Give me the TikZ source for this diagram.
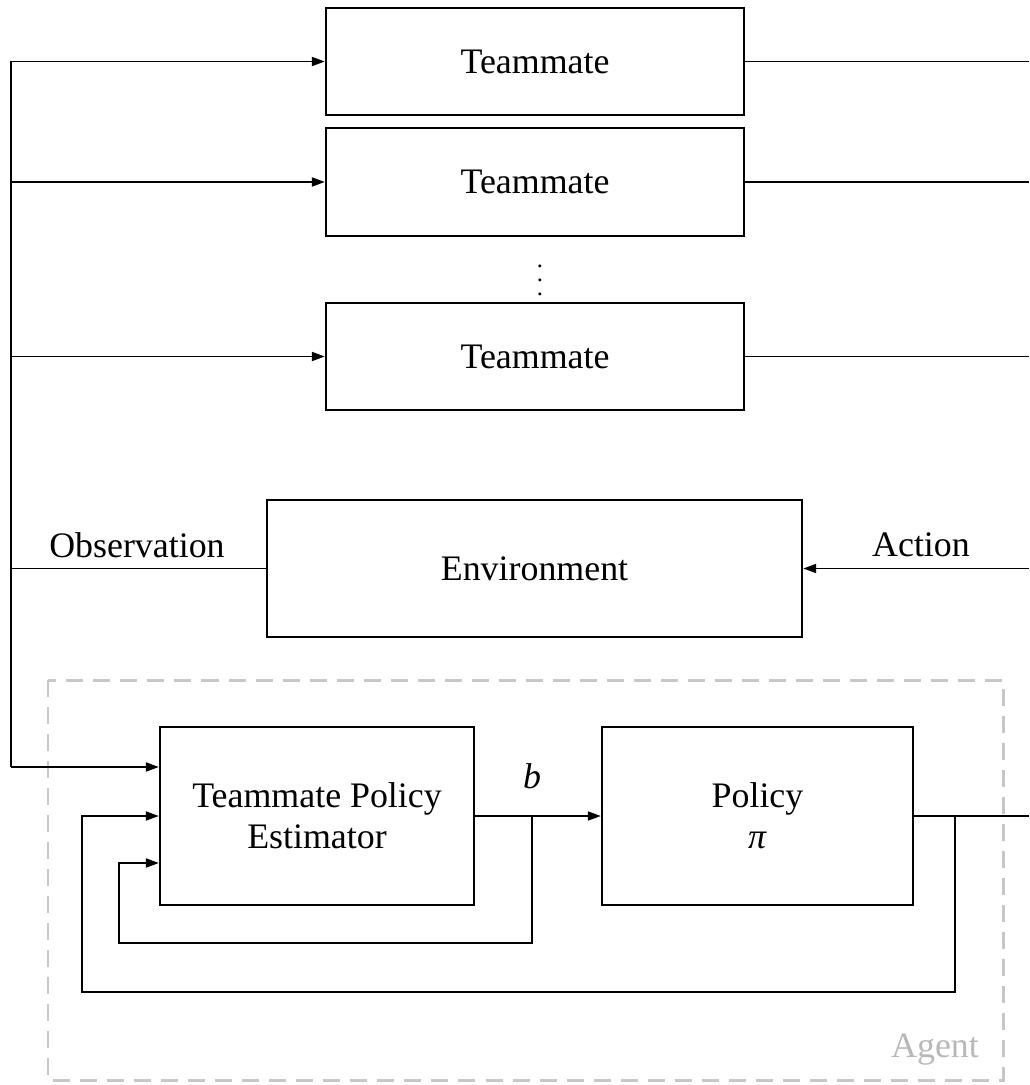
\documentclass[tikz,border=0pt]{standalone}
\usepackage{fontspec}
\setmainfont{Liberation Serif}
\usepackage{tikz}
\usetikzlibrary{calc,arrows.meta,positioning}
\usepackage{xcolor}

\tikzset{
  blk/.style={draw,line width=0.6pt,minimum width=#1,align=center,inner sep=0pt},
  lnk/.style={line width=0.55pt},
  arr/.style={lnk,-{Triangle[length=0.13cm,width=0.09cm]}},
  agentbox/.style={draw=black!22,line width=0.85pt,dash pattern=on 0.17cm off 0.1cm}
}

\begin{document}
\begin{tikzpicture}[x=0.01cm,y=-0.01cm,font=\fontsize{10.2}{11.6}\selectfont]
  \useasboundingbox (0,0) rectangle (1029,1085);
  % Companeros de equipo
  \node[blk=4.18cm,minimum height=1.07cm] (tm1) at (535,61.5) {Teammate};
  \node[blk=4.18cm,minimum height=1.08cm] (tm2) at (535,182) {Teammate};
  \node[inner sep=0pt] (dots) at (540,270) {\fontsize{7}{8}\selectfont$\vdots$};
  \node[blk=4.18cm,minimum height=1.07cm] (tm3) at (535,356.5) {Teammate};
  % Entorno
  \node[blk=5.35cm,minimum height=1.37cm] (env) at (534.5,568.5) {Environment};
  % Agente: estimador y politica
  \node[blk=3.14cm,minimum height=1.78cm] (tpe) at (317,816) {Teammate Policy\\Estimator};
  \node[blk=3.11cm,minimum height=1.78cm] (pol) at (757.5,816) {Policy\\\textit{π}};
  \draw[agentbox] (48,680) rectangle (1003,1080);
  \node[text=black!28] (agent) at (935,1050) {Agent};
  % puntos auxiliares
  \coordinate (top) at (11,61.5);
  \coordinate (bot) at (11,767);
  \coordinate (re) at (1029,0);
  \coordinate (jb) at (532,816);
  \coordinate (jp) at (955,816);
  \coordinate (in1) at (119,943);
  \coordinate (out1) at (82,992);
  \coordinate (tpein) at ($(tpe.west)+(0,47)$);
  % observacion hacia companeros y estimador
  \draw[lnk] (top) -- (bot);
  \draw[arr] (top) -- (tm1.west);
  \draw[arr] (top |- tm2.west) -- (tm2.west);
  \draw[arr] (top |- tm3.west) -- (tm3.west);
  \draw[lnk] (env.west) -- (env.west -| top);
  \node (obs) at (137,545) {Observation};
  \draw[arr] (bot) -- (tpe.west |- bot);
  % acciones hacia el borde derecho
  \draw[lnk] (tm1.east) -- (tm1.east -| re);
  \draw[lnk] (tm2.east) -- (tm2.east -| re);
  \draw[lnk] (tm3.east) -- (tm3.east -| re);
  \draw[arr] (env.east -| re) -- (env.east);
  \node (act) at (921,545) {Action};
  % creencia b y lazos de realimentacion
  \draw[arr] (tpe.east) -- (pol.west);
  \node (blab) at (532,776) {\textit{b}};
  \draw[arr] (jb) |- (in1) |- (tpein);
  \draw[lnk] (pol.east) -- (pol.east -| re);
  \draw[arr] (jp) |- (out1) |- (tpe.west);
\end{tikzpicture}
\end{document}
